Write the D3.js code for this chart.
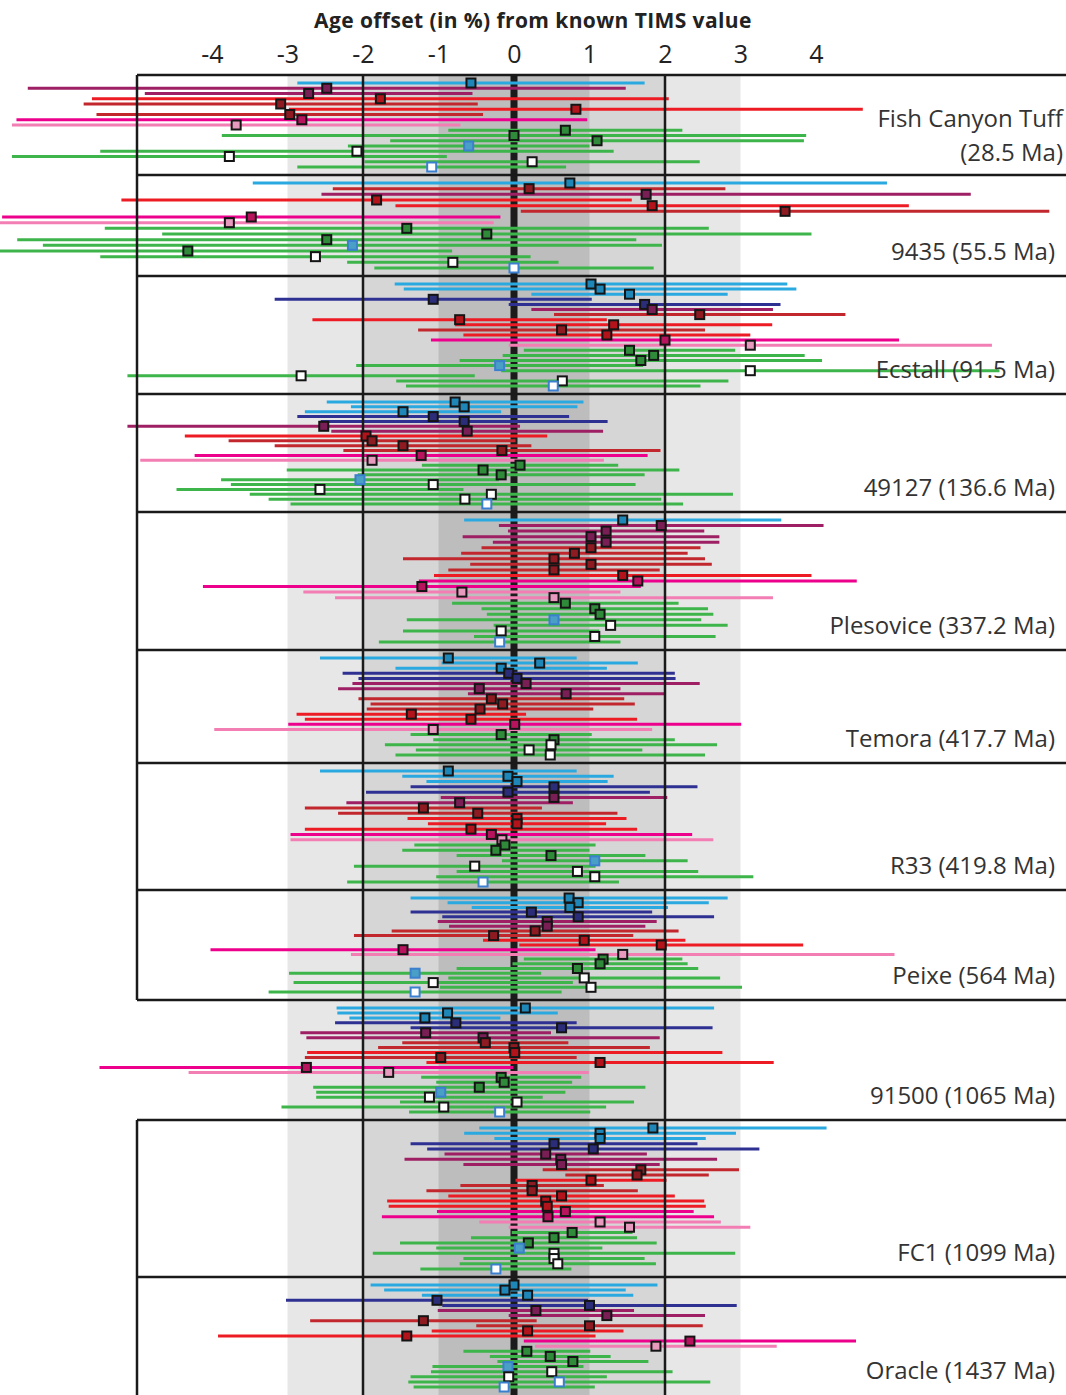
<!DOCTYPE html>
<html>
<head>
<meta charset="utf-8">
<script src="https://cdn.jsdelivr.net/npm/d3@7"></script>
<style>
  body { margin: 0; background: #fff; }
  svg { display: block; }
</style>
</head>
<body>
<svg id="chart" width="1066" height="1395"></svg>
<script>
// Reference materials and their TIMS ages
const sampleNames = ["Fish Canyon Tuff", "9435", "Ecstall", "49127", "Plesovice", "Temora",
                     "R33", "Peixe", "91500", "FC1", "Oracle"];
const sampleAges = ["(28.5 Ma)", "(55.5 Ma)", "(91.5 Ma)", "(136.6 Ma)", "(337.2 Ma)", "(417.7 Ma)",
                    "(419.8 Ma)", "(564 Ma)", "(1065 Ma)", "(1099 Ma)", "(1437 Ma)"];
const tickValues = [-4, -3, -2, -1, 0, 1, 2, 3, 4];

// Each row: [session group, age offset %, 2-sigma uncertainty %, marker style (optional)]
// marker style: "w" open, "o" open with blue rim, "t" blue-filled
const fishCanyon = [
  ["B", -0.57, 2.3], ["P", -2.48, 3.96], ["P", -2.72, 2.17], ["R", -1.77, 3.82],
  ["D", -3.09, 2.61], ["R", 0.82, 3.8], ["D", -2.97, 2.56], ["M", -2.81, 3.78],
  ["L", -3.68, 2.97], ["G", 0.68, 1.55], ["G", 0.0, 3.87], ["G", 1.1, 2.74],
  ["G", -0.6, 1.6, "t"], ["G", -2.08, 3.4, "w"], ["G", -3.77, 2.88, "w"],
  ["G", 0.24, 2.22, "w"], ["G", -1.09, 1.78, "o"]
];
const s9435 = [
  ["B", 0.74, 4.2], ["D", 0.2, 2.6], ["P", 1.75, 4.3], ["R", -1.82, 3.38],
  ["R", 1.83, 3.4], ["D", 3.59, 3.5], ["M", -3.48, 3.3], ["L", -3.77, 3.5],
  ["G", -1.42, 4.0], ["G", -0.36, 4.3], ["G", -2.48, 4.1], ["G", -2.14, 4.1, "t"],
  ["G", -4.32, 3.5], ["G", -2.63, 2.85, "w"], ["G", -0.81, 1.4, "w"], ["G", 0.0, 1.85, "o"]
];
const ecstall = [
  ["B", 1.02, 2.6], ["B", 1.14, 2.6], ["B", 1.53, 1.3], ["N", -1.07, 2.1],
  ["N", 1.73, 1.8], ["P", 1.83, 1.6], ["D", 2.46, 1.93], ["R", -0.72, 1.95],
  ["R", 1.32, 2.1], ["D", 0.63, 1.9], ["R", 1.23, 1.9], ["M", 2.0, 3.1],
  ["L", 3.13, 3.2], ["G", 1.53, 1.4], ["G", 1.85, 2.0], ["G", 1.68, 2.4],
  ["G", -0.19, 1.9, "t"], ["G", 3.13, 3.3, "w"], ["G", -2.82, 2.3, "w"],
  ["G", 0.64, 2.2, "w"], ["G", 0.52, 1.95, "o"]
];
const s49127 = [
  ["B", -0.78, 1.7], ["B", -0.66, 1.5], ["B", -1.47, 1.3], ["N", -1.07, 1.8],
  ["N", -0.66, 1.9], ["P", -2.52, 2.6], ["P", -0.62, 1.8], ["R", -1.96, 2.4],
  ["D", -1.88, 1.9], ["D", -1.47, 1.7], ["D", -0.16, 2.1], ["M", -1.23, 3.0],
  ["L", -1.88, 3.07], ["G", 0.08, 1.3], ["G", -0.41, 2.6], ["G", -0.17, 1.9],
  ["G", -2.04, 1.84, "t"], ["G", -1.07, 2.68, "w"], ["G", -2.57, 1.9, "w"],
  ["G", -0.3, 3.2, "w"], ["G", -0.65, 2.6, "w"], ["G", -0.36, 2.6, "o"]
];
const plesovice = [
  ["B", 1.44, 2.1], ["P", 1.95, 2.15], ["P", 1.22, 1.3], ["P", 1.02, 1.7],
  ["P", 1.22, 1.5], ["D", 1.02, 1.45], ["D", 0.8, 1.5], ["D", 0.53, 2.0],
  ["D", 1.02, 1.6], ["D", 0.53, 1.4], ["R", 1.44, 2.5], ["M", 1.64, 2.9],
  ["M", -1.22, 2.9], ["L", -0.69, 2.1], ["L", 0.53, 2.9], ["G", 0.68, 1.5],
  ["G", 1.07, 1.5], ["G", 1.14, 1.5], ["G", 0.53, 1.95, "t"], ["G", 1.28, 1.55, "w"],
  ["G", -0.17, 1.3, "w"], ["G", 1.07, 1.6, "w"], ["G", -0.19, 1.6, "o"]
];
const temora = [
  ["B", -0.87, 1.7], ["B", 0.34, 1.3], ["B", -0.17, 1.4], ["N", -0.07, 2.2],
  ["N", 0.04, 2.1], ["P", 0.16, 2.3], ["P", -0.46, 1.87], ["P", 0.69, 1.3],
  ["D", -0.3, 1.76], ["D", -0.15, 1.75], ["D", -0.45, 1.5], ["R", -1.36, 1.52],
  ["R", -0.57, 2.2], ["M", 0.01, 3.0], ["L", -1.07, 2.9], ["G", -0.17, 1.2],
  ["G", 0.53, 1.6], ["G", 0.49, 2.2, "w"], ["G", 0.2, 1.5, "w"], ["G", 0.48, 2.05, "w"]
];
const r33 = [
  ["B", -0.87, 1.7], ["B", -0.08, 1.4], ["B", 0.04, 1.2], ["N", 0.53, 1.9],
  ["N", -0.08, 1.88], ["P", 0.53, 1.5], ["P", -0.72, 1.5], ["D", -1.2, 1.57],
  ["D", -0.48, 1.85], ["R", 0.04, 1.45], ["R", 0.04, 1.18], ["R", -0.57, 2.2],
  ["M", -0.3, 2.66], ["L", -0.16, 2.8], ["G", -0.12, 1.2], ["G", -0.24, 1.24],
  ["G", 0.49, 1.25], ["G", 1.07, 1.23, "t"], ["G", -0.52, 1.6, "w"],
  ["G", 0.84, 1.6, "w"], ["G", 1.07, 2.1, "w"], ["G", -0.41, 1.8, "o"]
];
const peixe = [
  ["B", 0.73, 2.1], ["B", 0.85, 1.73], ["B", 0.74, 1.3], ["N", 0.23, 1.6],
  ["N", 0.85, 1.8], ["P", 0.44, 1.45], ["P", 0.44, 1.3], ["D", 0.28, 1.9],
  ["D", -0.27, 1.85], ["R", 0.93, 1.34], ["R", 1.95, 1.88], ["M", -1.47, 2.55],
  ["L", 1.44, 3.6], ["G", 1.18, 1.05], ["G", 1.14, 1.16], ["G", 0.84, 1.6],
  ["G", -1.31, 1.67, "t"], ["G", 0.93, 1.8, "w"], ["G", -1.07, 1.85, "w"],
  ["G", 1.02, 2.0, "w"], ["G", -1.31, 1.94, "o"]
];
const s91500 = [
  ["B", 0.15, 2.5], ["B", -0.88, 1.46], ["B", -1.18, 1.0], ["N", -0.77, 1.6],
  ["N", 0.63, 2.0], ["P", -1.17, 1.66], ["P", -0.41, 2.34], ["D", -0.38, 1.1],
  ["D", 0.0, 1.8], ["R", 0.01, 2.75], ["D", -0.97, 1.8], ["R", 1.14, 2.3],
  ["M", -2.75, 2.74], ["L", -1.66, 2.65], ["G", -0.17, 1.06], ["G", -0.13, 0.9],
  ["G", -0.46, 2.2], ["G", -0.97, 1.65, "t"], ["G", -1.12, 1.5, "w"],
  ["G", 0.04, 1.55, "w"], ["G", -0.93, 2.15, "w"], ["G", -0.19, 1.2, "o"]
];
const fc1 = [
  ["B", 1.84, 2.3], ["B", 1.14, 1.8], ["B", 1.14, 1.4], ["N", 0.53, 1.9],
  ["N", 1.05, 2.2], ["P", 0.42, 1.34], ["P", 0.62, 2.07], ["P", 0.63, 1.3],
  ["D", 1.68, 1.3], ["D", 1.63, 0.95], ["R", 1.02, 1.0], ["D", 0.24, 0.95],
  ["D", 0.24, 1.4], ["R", 0.63, 1.5], ["R", 0.42, 2.1], ["R", 0.44, 2.1],
  ["M", 0.68, 1.7], ["M", 0.45, 2.2], ["L", 1.14, 1.6], ["L", 1.53, 1.6],
  ["G", 0.77, 0.8], ["G", 0.53, 1.1], ["G", 0.19, 1.7], ["G", 0.07, 1.1, "t"],
  ["G", 0.53, 2.4, "w"], ["G", 0.53, 1.2, "w"], ["G", 0.58, 1.3, "w"], ["G", -0.24, 1.0, "o"]
];
const oracle = [
  ["B", 0.0, 1.9], ["B", -0.12, 1.6], ["B", 0.18, 1.4], ["N", -1.02, 2.0],
  ["N", 1.0, 1.95], ["P", 0.29, 1.3], ["P", 1.23, 1.3], ["D", -1.2, 1.5],
  ["D", 1.0, 1.5], ["R", 0.18, 1.27], ["R", -1.42, 2.5], ["M", 2.33, 2.2],
  ["L", 1.88, 1.6], ["G", 0.17, 0.84], ["G", 0.48, 0.8], ["G", 0.78, 1.0],
  ["G", -0.08, 1.0, "t"], ["G", 0.5, 1.6, "w"], ["G", -0.07, 1.3, "w"],
  ["G", 0.6, 2.0, "o"], ["G", -0.13, 1.2, "o"]
];
const sampleRows = [fishCanyon, s9435, ecstall, s49127, plesovice, temora,
                    r33, peixe, s91500, fc1, oracle];

// Session colours: bar stroke and marker fill
const barColor = { B: "#2aa9e0", N: "#2e3192", P: "#9e1f63", D: "#c1272d",
                   R: "#ed1c24", M: "#ec008c", L: "#f27eb4", G: "#3db54a" };
const markFill = { B: "#1f86b8", N: "#2b2d78", P: "#7a1f55", D: "#8e1b22",
                   R: "#b3141c", M: "#b8145e", L: "#e79abd", G: "#2f8a3a" };

// ---- layout ----
const W = 1066, H = 1395;
const panelEdges = [75, 175, 276, 394, 512, 650, 763, 890, 1000, 1120, 1277, 1402];
const boxLeft = 137, boxRight = 1066;
const openPanel = 8; // 91500 drawn without its left border

const svg = d3.select("#chart");
const x = d3.scaleLinear().domain([-4, 4]).range([212, 816]);
const plotTop = panelEdges[0];

// shaded uncertainty bands
const bands = [[3, "#e7e7e7"], [2, "#d6d6d6"], [1, "#bdbdbd"]];
svg.append("g").selectAll("rect").data(bands).join("rect")
  .attr("x", d => x(-d[0])).attr("width", d => x(d[0]) - x(-d[0]))
  .attr("y", plotTop).attr("height", H - plotTop)
  .attr("fill", d => d[1]);

// zero reference
svg.append("rect")
  .attr("x", x(0) - 3.5).attr("width", 7)
  .attr("y", plotTop).attr("height", H - plotTop)
  .attr("fill", "#1b1b1b");

const barLayer = svg.append("g");
const frameLayer = svg.append("g");
const markLayer = svg.append("g");

// error bars and offset markers per sample
sampleRows.forEach((rows, i) => {
  const top = panelEdges[i], bottom = panelEdges[i + 1];
  const y = d3.scalePoint().domain(d3.range(rows.length)).range([top + 8, Math.min(bottom, H) - 8]);
  barLayer.append("g").selectAll("line").data(rows).join("line")
    .attr("x1", d => x(d[1] - d[2])).attr("x2", d => x(d[1] + d[2]))
    .attr("y1", (d, j) => y(j)).attr("y2", (d, j) => y(j))
    .attr("stroke", d => barColor[d[0]])
    .attr("stroke-width", 3);
  markLayer.append("g").selectAll("rect").data(rows).join("rect")
    .attr("x", d => x(d[1]) - 4.5).attr("y", (d, j) => y(j) - 4.5)
    .attr("width", 9).attr("height", 9)
    .attr("fill", d => d[3] === "t" ? "#4a9fc6" : (d[3] ? "#ffffff" : markFill[d[0]]))
    .attr("stroke", d => (d[3] === "o" || d[3] === "t") ? "#3b7fcf" : "#141414")
    .attr("stroke-width", 2);
});

// panel frames
frameLayer.selectAll("line.h").data(panelEdges.slice(0, -1)).join("line")
  .attr("class", "h")
  .attr("x1", boxLeft).attr("x2", boxRight)
  .attr("y1", d => d).attr("y2", d => d)
  .attr("stroke", "#1a1a1a").attr("stroke-width", 2.5);
frameLayer.selectAll("line.v").data(d3.range(sampleRows.length).filter(i => i !== openPanel)).join("line")
  .attr("class", "v")
  .attr("x1", boxLeft).attr("x2", boxLeft)
  .attr("y1", i => panelEdges[i]).attr("y2", i => Math.min(panelEdges[i + 1], H))
  .attr("stroke", "#1a1a1a").attr("stroke-width", 2.5);
frameLayer.selectAll("line.lim").data([-2, 2]).join("line")
  .attr("class", "lim")
  .attr("x1", d => x(d)).attr("x2", d => x(d))
  .attr("y1", plotTop).attr("y2", H)
  .attr("stroke", "#1a1a1a").attr("stroke-width", 2.5);

// axis
const axis = svg.append("g")
  .attr("transform", "translate(0,66)")
  .call(d3.axisTop(x).tickValues(tickValues).tickSize(0).tickFormat(d => String(d)));
axis.select(".domain").remove();
axis.selectAll("text")
  .attr("font-family", "'Open Sans', sans-serif")
  .attr("font-size", 25)
  .attr("fill", "#222");

svg.append("text")
  .attr("x", 533).attr("y", 28)
  .attr("text-anchor", "middle")
  .attr("font-family", "'Open Sans', sans-serif")
  .attr("font-weight", 700)
  .attr("font-size", 21)
  .attr("letter-spacing", 0.4)
  .attr("fill", "#222")
  .text("Age offset (in %) from known TIMS value");

// sample labels
const labelLayer = svg.append("g")
  .attr("font-family", "'Open Sans', sans-serif")
  .attr("font-size", 24)
  .attr("fill", "#333")
  .attr("text-anchor", "end");
sampleNames.forEach((name, i) => {
  const bottom = Math.min(panelEdges[i + 1], H);
  if (i === 0) {
    labelLayer.append("text").attr("x", 1063).attr("y", bottom - 48).text(name);
    labelLayer.append("text").attr("x", 1063).attr("y", bottom - 14).text(sampleAges[i]);
  } else {
    labelLayer.append("text").attr("x", 1055).attr("y", bottom - 16).text(`${name} ${sampleAges[i]}`);
  }
});
</script>
</body>
</html>
